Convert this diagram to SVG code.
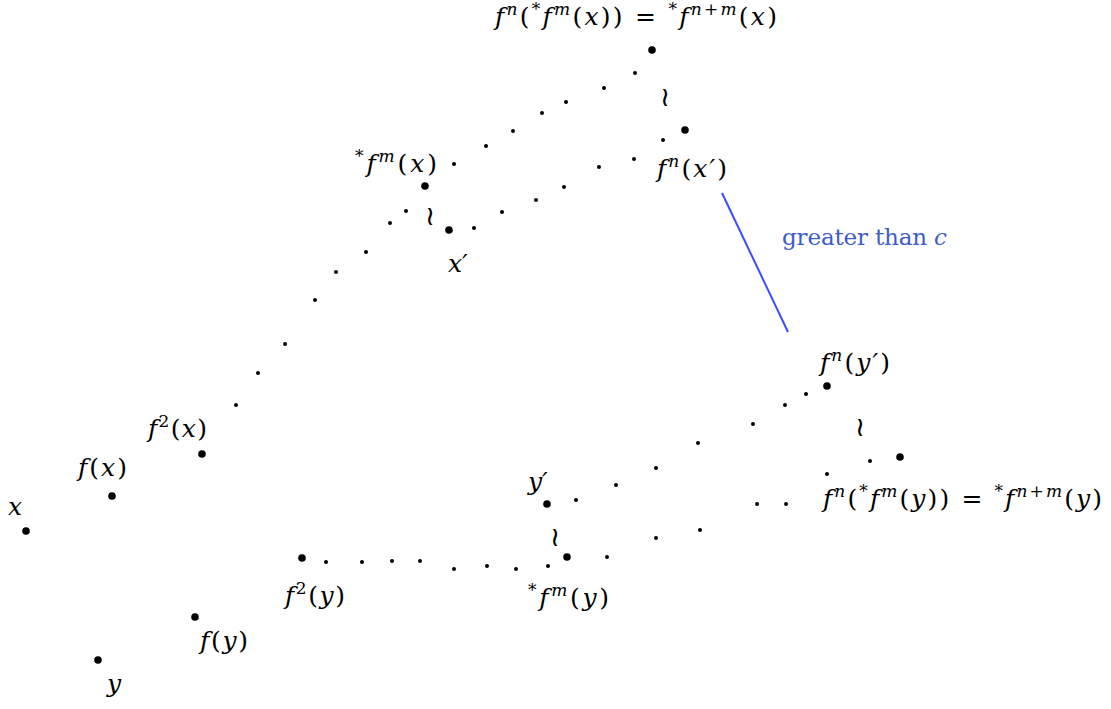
<svg xmlns="http://www.w3.org/2000/svg" width="1111" height="709" viewBox="0 0 1111 709">
<style>
text{font-family:"DejaVu Serif",serif;font-size:25px;fill:#000}
.i{font-style:italic}
.s{font-size:17px;font-style:italic}
.sr{font-size:17px;font-style:normal}
.wr{font-family:"DejaVu Sans",sans-serif;font-size:27px;text-anchor:middle}
.blue{fill:#3d5ccc;font-size:23px}
</style>
<rect width="1111" height="709" fill="#fff"/>
<defs>
<circle id="b" r="3.8"/>
<circle id="d" r="2"/>
</defs>

<g id="connectors">
<line x1="722" y1="193" x2="788" y2="332" stroke="#3a4cff" stroke-width="2"/>
</g>

<g id="chains">
<use href="#d" x="236" y="405"/><use href="#d" x="258" y="373"/><use href="#d" x="285" y="344"/>
<use href="#d" x="315" y="300"/><use href="#d" x="336" y="272"/><use href="#d" x="366" y="252"/>
<use href="#d" x="390" y="223"/><use href="#d" x="406" y="211"/>
<use href="#d" x="454" y="164"/><use href="#d" x="486" y="146"/><use href="#d" x="513" y="131"/>
<use href="#d" x="542" y="113"/><use href="#d" x="566" y="102"/><use href="#d" x="604" y="88"/>
<use href="#d" x="635" y="73"/>
<use href="#d" x="474" y="228"/><use href="#d" x="502" y="212"/><use href="#d" x="536" y="200"/>
<use href="#d" x="564" y="187"/><use href="#d" x="599" y="167"/><use href="#d" x="634" y="159"/>
<use href="#d" x="663" y="140"/>
<use href="#d" x="326" y="562"/><use href="#d" x="362" y="562"/><use href="#d" x="392" y="561"/>
<use href="#d" x="420" y="561"/><use href="#d" x="454" y="569"/><use href="#d" x="487" y="566"/>
<use href="#d" x="516" y="569"/><use href="#d" x="548" y="566"/>
<use href="#d" x="576" y="500"/><use href="#d" x="616" y="485"/><use href="#d" x="656" y="468"/>
<use href="#d" x="698" y="443"/><use href="#d" x="753" y="424"/><use href="#d" x="785" y="405"/>
<use href="#d" x="806" y="394"/>
<use href="#d" x="607" y="557"/><use href="#d" x="656" y="538"/><use href="#d" x="700" y="530"/>
<use href="#d" x="757" y="504"/><use href="#d" x="786" y="504"/><use href="#d" x="827" y="474"/>
<use href="#d" x="870" y="461"/>
</g>

<g id="sim-marks">
<text class="wr" x="665" y="106">≀</text>
<text class="wr" x="430" y="225">≀</text>
<text class="wr" x="555" y="546">≀</text>
<text class="wr" x="860" y="436">≀</text>
</g>

<g id="node-x"><use href="#b" x="26" y="531"/><text class="i" x="8" y="515">x</text></g>
<g id="node-fx"><use href="#b" x="112" y="496"/><text x="78" y="476" textLength="49"><tspan class="i">f</tspan>(<tspan class="i">x</tspan>)</text></g>
<g id="node-f2x"><use href="#b" x="202" y="454"/><text x="148" y="437" textLength="59"><tspan class="i">f</tspan><tspan class="sr" dy="-10">2</tspan><tspan dy="10">(</tspan><tspan class="i">x</tspan>)</text></g>
<g id="node-fmx"><use href="#b" x="425" y="186"/><text x="355" y="172" textLength="82"><tspan class="sr" dy="-10">*</tspan><tspan class="i" dy="10">f</tspan><tspan class="s" dy="-10">m</tspan><tspan dy="10">(</tspan><tspan class="i">x</tspan>)</text></g>
<g id="node-xp"><use href="#b" x="449" y="230"/><text class="i" x="448" y="272">x′</text></g>
<g id="node-top"><use href="#b" x="652" y="50"/><text x="495" y="25" textLength="282"><tspan class="i">f</tspan><tspan class="s" dy="-10">n</tspan><tspan dy="10">(</tspan><tspan class="sr" dy="-10">*</tspan><tspan class="i" dy="10">f</tspan><tspan class="s" dy="-10">m</tspan><tspan dy="10">(</tspan><tspan class="i">x</tspan>)) = <tspan class="sr" dy="-10">*</tspan><tspan class="i" dy="10">f</tspan><tspan class="s" dy="-10">n</tspan><tspan class="sr">+</tspan><tspan class="s">m</tspan><tspan dy="10">(</tspan><tspan class="i">x</tspan>)</text></g>
<g id="node-fnxp"><use href="#b" x="685" y="130"/><text x="657" y="177" textLength="70"><tspan class="i">f</tspan><tspan class="s" dy="-10">n</tspan><tspan dy="10">(</tspan><tspan class="i">x′</tspan>)</text></g>
<g id="label-greater"><text class="blue" x="782" y="245" textLength="165">greater than <tspan class="i">c</tspan></text></g>
<g id="node-fnyp"><use href="#b" x="827" y="386"/><text x="820" y="371" textLength="70"><tspan class="i">f</tspan><tspan class="s" dy="-10">n</tspan><tspan dy="10">(</tspan><tspan class="i">y′</tspan>)</text></g>
<g id="node-right"><use href="#b" x="900" y="457"/><text x="823" y="507" textLength="279"><tspan class="i">f</tspan><tspan class="s" dy="-10">n</tspan><tspan dy="10">(</tspan><tspan class="sr" dy="-10">*</tspan><tspan class="i" dy="10">f</tspan><tspan class="s" dy="-10">m</tspan><tspan dy="10">(</tspan><tspan class="i">y</tspan>)) = <tspan class="sr" dy="-10">*</tspan><tspan class="i" dy="10">f</tspan><tspan class="s" dy="-10">n</tspan><tspan class="sr">+</tspan><tspan class="s">m</tspan><tspan dy="10">(</tspan><tspan class="i">y</tspan>)</text></g>
<g id="node-yp"><use href="#b" x="547" y="504"/><text class="i" x="528" y="490">y′</text></g>
<g id="node-fmy"><use href="#b" x="567" y="557"/><text x="528" y="606" textLength="81"><tspan class="sr" dy="-10">*</tspan><tspan class="i" dy="10">f</tspan><tspan class="s" dy="-10">m</tspan><tspan dy="10">(</tspan><tspan class="i">y</tspan>)</text></g>
<g id="node-f2y"><use href="#b" x="302" y="558"/><text x="285" y="604" textLength="60"><tspan class="i">f</tspan><tspan class="sr" dy="-10">2</tspan><tspan dy="10">(</tspan><tspan class="i">y</tspan>)</text></g>
<g id="node-fy"><use href="#b" x="195" y="617"/><text x="200" y="649" textLength="48"><tspan class="i">f</tspan>(<tspan class="i">y</tspan>)</text></g>
<g id="node-y"><use href="#b" x="98" y="660"/><text class="i" x="107" y="692">y</text></g>
</svg>
